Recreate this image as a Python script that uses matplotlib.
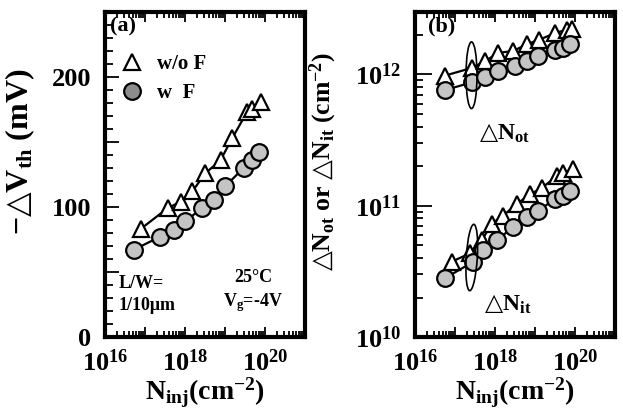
import numpy as np
import matplotlib
matplotlib.use("Agg")
import matplotlib.pyplot as plt
from matplotlib.lines import Line2D
from matplotlib.patches import Ellipse
from matplotlib.ticker import MultipleLocator, FuncFormatter, LogLocator, NullFormatter

plt.rcParams['font.family'] = ['Liberation Serif', 'DejaVu Serif']
plt.rcParams['font.weight'] = 'bold'
plt.rcParams['axes.labelweight'] = 'bold'
plt.rcParams['mathtext.fontset'] = 'custom'
plt.rcParams['mathtext.rm'] = 'Liberation Serif:bold'
plt.rcParams['mathtext.it'] = 'Liberation Serif:bold'
plt.rcParams['mathtext.bf'] = 'Liberation Serif:bold'
plt.rcParams['mathtext.sf'] = 'DejaVu Sans'
plt.rcParams['mathtext.fallback'] = 'stix'

TRI = '$\\mathsf{\u25b3}$'  # white up-pointing triangle from DejaVu Sans

# (a) threshold voltage shift
ninj_a_wo = [7.6e16, 3.6e17, 7.6e17, 1.5e18, 3.2e18, 7.6e18, 1.5e19, 3.5e19, 4.6e19, 7.6e19]
dvth_wo = [83, 99, 104, 112, 126, 136, 153, 173, 175, 181]
ninj_a_w = [5.1e16, 2.3e17, 5.1e17, 1.0e18, 2.6e18, 5.1e18, 1.0e19, 2.9e19, 4.6e19, 6.8e19]
dvth_w = [67, 77, 82, 89, 99, 105, 116, 130, 136, 142]

# (b) oxide trapped charge / interface traps
ninj_ot_wo = [5.6e16, 2.6e17, 5.6e17, 1.2e18, 2.9e18, 6.2e18, 1.3e19, 3.2e19, 6.2e19, 8.3e19]
not_wo = [9.8e11, 1.12e12, 1.26e12, 1.46e12, 1.51e12, 1.70e12, 1.84e12, 2.07e12, 2.19e12, 2.24e12]
ninj_ot_w = [5.6e16, 2.6e17, 5.6e17, 1.2e18, 3.2e18, 6.2e18, 1.2e19, 3.2e19, 5.1e19, 7.6e19]
not_w = [7.6e11, 8.7e11, 9.5e11, 1.07e12, 1.16e12, 1.26e12, 1.38e12, 1.55e12, 1.58e12, 1.70e12]

ninj_it_wo = [8.3e16, 2.4e17, 4.7e17, 8.3e17, 1.6e18, 3.5e18, 7.5e18, 1.5e19, 3.5e19, 5.1e19, 9.1e19]
nit_wo = [3.75e10, 4.34e10, 5.46e10, 7.28e10, 8.41e10, 1.03e11, 1.22e11, 1.37e11, 1.68e11, 1.78e11, 1.89e11]
ninj_it_w = [5.6e16, 2.9e17, 5.1e17, 1.1e18, 2.9e18, 6.2e18, 1.2e19, 3.2e19, 5.1e19, 7.6e19]
nit_w = [2.8e10, 3.75e10, 4.6e10, 5.46e10, 6.9e10, 8.2e10, 9.2e10, 1.12e11, 1.19e11, 1.29e11]

GRAY = '#c4c4c4'
tri = dict(marker='^', ms=12, mfc='white', mec='black', mew=1.6, color='black', lw=1.6)
circ = dict(marker='o', ms=12, mfc=GRAY, mec='black', mew=1.6, color='black', lw=1.6)

fig = plt.figure(figsize=(6.23, 4.09), dpi=100)
ax1 = fig.add_axes([0.169, 0.176, 0.321, 0.795])
ax2 = fig.add_axes([0.666, 0.176, 0.321, 0.795])


def xfmt(v, pos):
    e = int(round(np.log10(v)))
    return r'$\mathdefault{10^{%d}}$' % e if e % 2 == 0 else ''


for ax in (ax1, ax2):
    ax.set_xscale('log')
    ax.set_xlim(1e16, 1e21)
    ax.xaxis.set_major_locator(LogLocator(base=10, numticks=10))
    ax.xaxis.set_major_formatter(FuncFormatter(xfmt))
    ax.xaxis.set_minor_locator(LogLocator(base=10, subs=np.arange(2, 10), numticks=20))
    ax.xaxis.set_minor_formatter(NullFormatter())
    ax.tick_params(which='both', direction='in', top=True, right=False, labelsize=19, width=1.3)
    ax.tick_params(which='major', length=7)
    ax.tick_params(which='minor', length=4)
    ax.tick_params(axis='x', pad=9)
    ax.tick_params(axis='y', pad=10)
    for s in ax.spines.values():
        s.set_linewidth(3)
    ax.set_xlabel(r'N$_{inj}$(cm$^{-2}$)', fontsize=20, labelpad=0)

# panel (a)
ax1.plot(ninj_a_wo, dvth_wo, **tri)
ax1.plot(ninj_a_w, dvth_w, **circ)
ax1.set_ylim(0, 250)
ax1.yaxis.set_major_locator(MultipleLocator(50))
ax1.yaxis.set_minor_locator(MultipleLocator(10))
ax1.yaxis.set_major_formatter(FuncFormatter(lambda v, p: '%d' % v if v % 100 == 0 else ''))
ax1.tick_params(axis='y', which='major', length=10)
ax1.tick_params(axis='y', which='minor', length=6)
ax1.set_ylabel('−' + TRI + r'V$_{th}$ (mV)', fontsize=23)
ax1.yaxis.set_label_coords(-0.34, 0.57)

handles = [Line2D([], [], ls='none', marker='^', ms=12, mfc='white', mec='black', mew=1.6),
           Line2D([], [], ls='none', marker='o', ms=12, mfc='#8c8c8c', mec='black', mew=1.6)]
ax1.legend(handles, ['w/o F', 'w  F'], loc='upper left', bbox_to_anchor=(0.01, 0.915),
           frameon=False, fontsize=15, handlelength=1.0, handletextpad=0.7,
           labelspacing=0.45, borderaxespad=0.3)
ax1.text(0.025, 0.955, '(a)', transform=ax1.transAxes, fontsize=16, ha='left', va='center')
ax1.text(0.065, 0.13, 'L/W=\n1/10μm', transform=ax1.transAxes, fontsize=13,
         ha='left', va='center', linespacing=1.4)
ax1.text(0.74, 0.14, '25°C\nV$_g$=-4V', transform=ax1.transAxes, fontsize=13,
         ha='center', va='center', linespacing=1.3)

# panel (b)
ax2.plot(ninj_ot_wo, not_wo, **tri)
ax2.plot(ninj_ot_w, not_w, **circ)
ax2.plot(ninj_it_wo, nit_wo, **tri)
ax2.plot(ninj_it_w, nit_w, **circ)
ax2.set_yscale('log')
ax2.set_ylim(1e10, 3e12)
ax2.yaxis.set_major_locator(LogLocator(base=10, numticks=10))
ax2.yaxis.set_minor_locator(LogLocator(base=10, subs=np.arange(2, 10), numticks=20))
ax2.yaxis.set_minor_formatter(NullFormatter())
ax2.tick_params(axis='y', which='major', length=12)
ax2.tick_params(axis='y', which='minor', length=6)
ax2.set_ylabel(TRI + r'N$_{ot}$ or ' + TRI + r'N$_{it}$ (cm$^{-2}$)', fontsize=18.5)
ax2.yaxis.set_label_coords(-0.38, 0.54)

ax2.text(0.065, 0.955, '(b)', transform=ax2.transAxes, fontsize=16, ha='left', va='center')
ax2.text(0.32, 0.625, TRI + r'N$_{ot}$', transform=ax2.transAxes, fontsize=17, ha='left', va='center')
ax2.text(0.345, 0.1, TRI + r'N$_{it}$', transform=ax2.transAxes, fontsize=17, ha='left', va='center')


# hand-drawn ellipses around the second point of each group (axes fraction)
def frac(x, y):
    fx = (np.log10(x) - 16) / 5
    fy = (np.log10(y) - 10) / np.log10(300)
    return fx, fy


for xs, ys, xs2, ys2, ang in [(ninj_ot_wo, not_wo, ninj_ot_w, not_w, 0),
                              (ninj_it_wo, nit_wo, ninj_it_w, nit_w, -6)]:
    cx = np.sqrt(xs[1] * xs2[1])
    cy = np.sqrt(ys[1] * ys2[1])
    ax2.add_patch(Ellipse(frac(cx, cy), 0.055, 0.205, angle=ang, transform=ax2.transAxes,
                          fill=False, ec='black', lw=1.2, zorder=5))

fig.savefig('out.png', dpi=100)
